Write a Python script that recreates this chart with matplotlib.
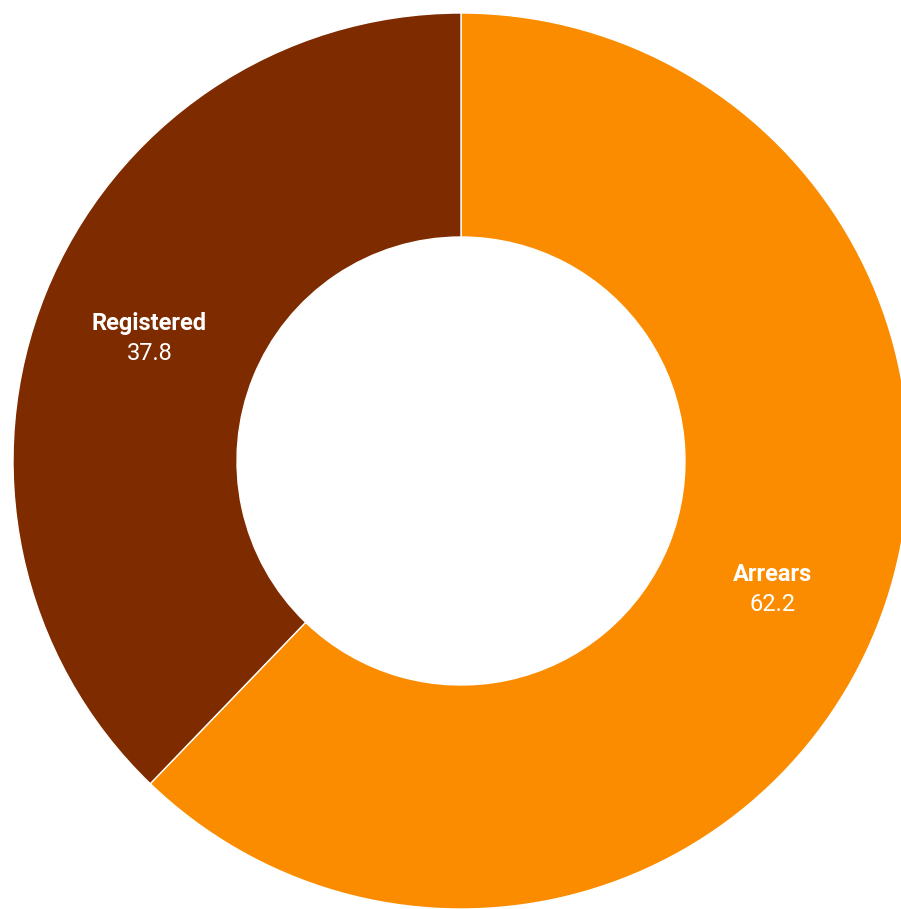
import matplotlib.pyplot as plt
import numpy as np

labels = ["Arrears", "Registered"]
values = [62.2, 37.8]
colors = ["#FB8C00", "#7F2B00"]

W, H = 901, 909
fig = plt.figure(figsize=(W / 100, H / 100), dpi=100)
ax = fig.add_axes([0, 0, 1, 1])

cx, cy = 461, H - 461
r_out = 448
ring = 0.5

wedges, _ = ax.pie(values, colors=colors, startangle=90, counterclock=False,
                   radius=r_out, center=(cx, cy),
                   wedgeprops=dict(width=r_out * ring, edgecolor="white",
                                   linewidth=1))

ax.set_xlim(0, W)
ax.set_ylim(0, H)
ax.set_aspect("equal")
ax.axis("off")

# label each slice at the middle of the ring
r_lab = r_out * (1 - ring / 2)
for w, name, v in zip(wedges, labels, values):
    ang = np.deg2rad((w.theta1 + w.theta2) / 2)
    x = cx + r_lab * np.cos(ang)
    y = cy + r_lab * np.sin(ang) - 3
    ax.text(x, y + 15, name, ha="center", va="center", color="white",
            fontsize=17, fontweight="bold", family="Roboto")
    ax.text(x, y - 15, f"{v}", ha="center", va="center", color="white",
            fontsize=17, family="Roboto")

fig.savefig("out.png", dpi=100, facecolor="white")
